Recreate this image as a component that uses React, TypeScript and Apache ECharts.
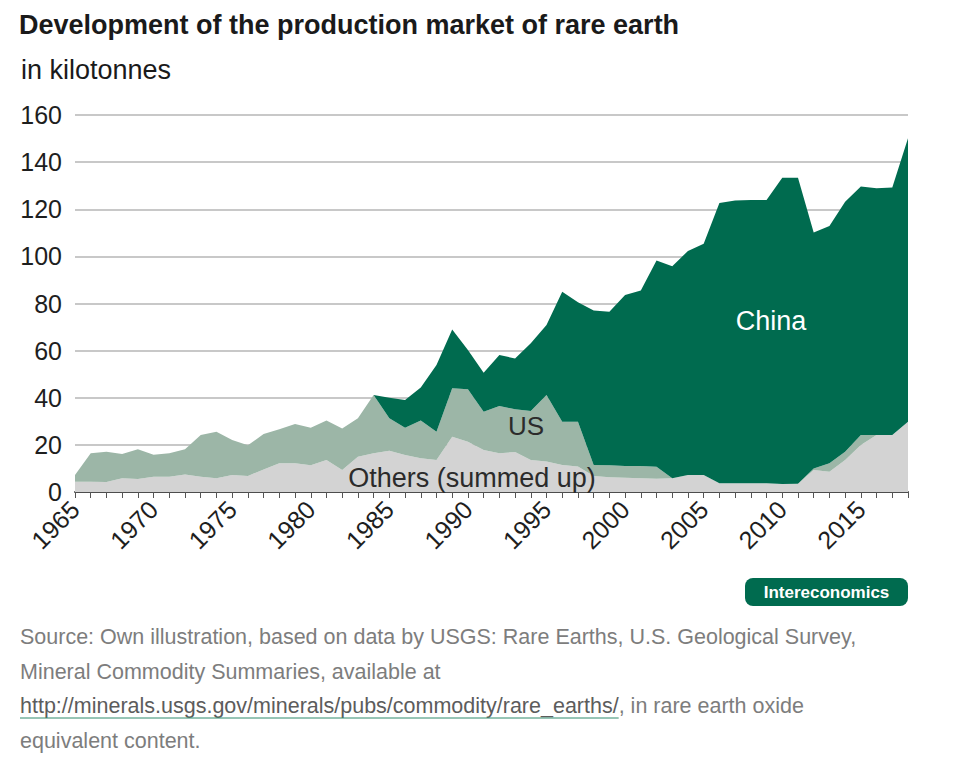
import React, { useEffect, useRef } from 'react';
import * as echarts from 'echarts';

const years = [
  '1965','1966','1967','1968','1969','1970','1971','1972','1973','1974',
  '1975','1976','1977','1978','1979','1980','1981','1982','1983','1984',
  '1985','1986','1987','1988','1989','1990','1991','1992','1993','1994',
  '1995','1996','1997','1998','1999','2000','2001','2002','2003','2004',
  '2005','2006','2007','2008','2009','2010','2011','2012','2013','2014',
  '2015','2016','2017','2018',
];

const others = [
  4.4, 4.4, 4.2, 5.8, 5.5, 6.5, 6.5, 7.4, 6.5, 5.8,
  7.2, 6.8, 9.6, 12.2, 12.2, 11.3, 13.6, 9.3, 15.0, 16.4,
  17.5, 15.7, 14.3, 13.6, 23.5, 21.3, 17.8, 16.4, 17.0, 13.6,
  12.9, 11.5, 10.8, 6.8, 6.3, 6.0, 5.8, 5.6, 5.8, 7.2,
  7.2, 3.7, 3.7, 3.7, 3.7, 3.4, 3.5, 9.3, 8.6, 13.6,
  20.0, 24.2, 24.2, 29.8,
];

const us = [
  2.8, 12.0, 12.9, 10.3, 12.6, 9.3, 9.9, 10.7, 17.7, 19.8,
  14.9, 13.0, 15.0, 14.4, 16.7, 16.0, 16.7, 17.7, 16.3, 24.8,
  13.8, 11.6, 16.0, 12.0, 20.5, 22.3, 16.3, 20.1, 18.1, 20.8,
  28.3, 18.3, 19.0, 4.7, 5.0, 5.0, 5.2, 5.1, 0, 0,
  0, 0, 0, 0, 0, 0, 0, 0.7, 3.6, 3.5,
  4.2, 0, 0, 0,
];

const china = [
  0, 0, 0, 0, 0, 0, 0, 0, 0, 0,
  0, 0, 0, 0, 0, 0, 0, 0, 0, 0,
  8.7, 11.7, 14.1, 28.3, 25.0, 16.7, 16.5, 21.6, 21.6, 28.7,
  29.7, 55.2, 50.7, 65.5, 65.2, 72.6, 74.5, 87.6, 90.0, 95.1,
  98.2, 118.9, 120.0, 120.2, 120.2, 130.0, 129.9, 100.1, 100.7, 106.1,
  105.5, 104.7, 105.0, 120.3,
];

const title = 'Development of the production market of rare earth';
const subtitle = 'in kilotonnes';
const sourceLine1 = 'Source: Own illustration, based on data by USGS: Rare Earths, U.S. Geological Survey,';
const sourceLine2 = 'Mineral Commodity Summaries, available at';
const sourceUrl = 'http://minerals.usgs.gov/minerals/pubs/commodity/rare_earths/';
const sourceLine3Rest = ', in rare earth oxide';
const sourceLine4 = 'equivalent content.';

const FONT = '"Liberation Sans", Arial, Helvetica, sans-serif';
const C_CHINA = '#006B4F';
const C_US = '#9CB6A7';
const C_OTHERS = '#D3D3D3';

function measure(text: string, font: string): number {
  const c = document.createElement('canvas');
  const ctx = c.getContext('2d');
  if (!ctx) return text.length * 10;
  ctx.font = font;
  return ctx.measureText(text).width;
}

export default function App() {
  const ref = useRef<HTMLDivElement>(null);

  useEffect(() => {
    if (!ref.current) return;
    const chart = echarts.init(ref.current, undefined, { renderer: 'svg' });
    const srcFontSize = 21.5;
    const urlW = measure(sourceUrl, `${srcFontSize}px "Liberation Sans"`);

    const areaSeries = (name: string, data: number[], color: string) => ({
      name,
      type: 'line',
      stack: 'total',
      data,
      showSymbol: false,
      symbol: 'none',
      lineStyle: { width: 0, color },
      itemStyle: { color },
      areaStyle: { color, opacity: 1 },
      emphasis: { disabled: true },
      silent: true,
    });

    const textEl = (text: string, x: number, y: number, size: number, color: string, opts: any = {}) => ({
      type: 'text',
      x,
      y,
      silent: true,
      style: {
        text,
        fill: color,
        fontSize: size,
        fontFamily: FONT,
        fontWeight: opts.weight || 'normal',
        textAlign: opts.align || 'left',
        align: opts.align || 'left',
        textVerticalAlign: 'middle',
        verticalAlign: 'middle',
      },
      z: 100,
    });

    chart.setOption({
      animation: false,
      backgroundColor: '#ffffff',
      grid: { left: 75, right: 67, top: 115, bottom: 267, containLabel: false },
      xAxis: {
        type: 'category',
        data: years,
        boundaryGap: false,
        axisLine: { show: true, lineStyle: { color: '#4d4d4d', width: 2 } },
        axisTick: { show: true, interval: 0, length: 6, lineStyle: { color: '#555', width: 1 } },
        axisLabel: {
          interval: 4,
          rotate: 45,
          margin: 13,
          fontSize: 25,
          fontFamily: FONT,
          color: '#1e1e1e',
        },
        splitLine: { show: false },
      },
      yAxis: {
        type: 'value',
        min: 0,
        max: 160,
        interval: 20,
        axisLine: { show: false },
        axisTick: { show: false },
        axisLabel: { fontSize: 25, fontFamily: FONT, color: '#1e1e1e', margin: 13 },
        splitLine: { show: true, lineStyle: { color: '#c8c8c8', width: 2 } },
      },
      series: [
        areaSeries('Others (summed up)', others, C_OTHERS),
        areaSeries('US', us, C_US),
        areaSeries('China', china, C_CHINA),
      ],
      graphic: [
        textEl(title, 19, 25, 27, '#1a1a1a', { weight: 'bold' }),
        textEl(subtitle, 21, 70, 27, '#1a1a1a'),
        textEl('China', 771, 321, 27, '#ffffff', { align: 'center' }),
        textEl('US', 526, 426, 26, '#2b2b2b', { align: 'center' }),
        textEl('Others (summed up)', 472, 478, 27, '#2b2b2b', { align: 'center' }),
        {
          type: 'rect',
          shape: { x: 745, y: 578, width: 163, height: 28, r: 8 },
          style: { fill: C_CHINA },
          silent: true,
          z: 100,
        },
        textEl('Intereconomics', 826.5, 592, 17, '#ffffff', { align: 'center', weight: 'bold' }),
        textEl(sourceLine1, 20, 637, srcFontSize, '#7d7d7d'),
        textEl(sourceLine2, 20, 672, srcFontSize, '#7d7d7d'),
        textEl(sourceUrl, 20, 706, srcFontSize, '#5c5c5c'),
        {
          type: 'line',
          shape: { x1: 20, y1: 718, x2: 20 + urlW, y2: 718 },
          style: { stroke: '#2f8a6c', lineWidth: 1 },
          silent: true,
          z: 100,
        },
        textEl(sourceLine3Rest, 20 + urlW, 706, srcFontSize, '#7d7d7d'),
        textEl(sourceLine4, 20, 741, srcFontSize, '#7d7d7d'),
      ],
    });

    return () => chart.dispose();
  }, []);

  return (
    <div
      ref={ref}
      style={{ position: 'absolute', left: 0, top: 0, width: 975, height: 759, background: '#fff' }}
    />
  );
}
